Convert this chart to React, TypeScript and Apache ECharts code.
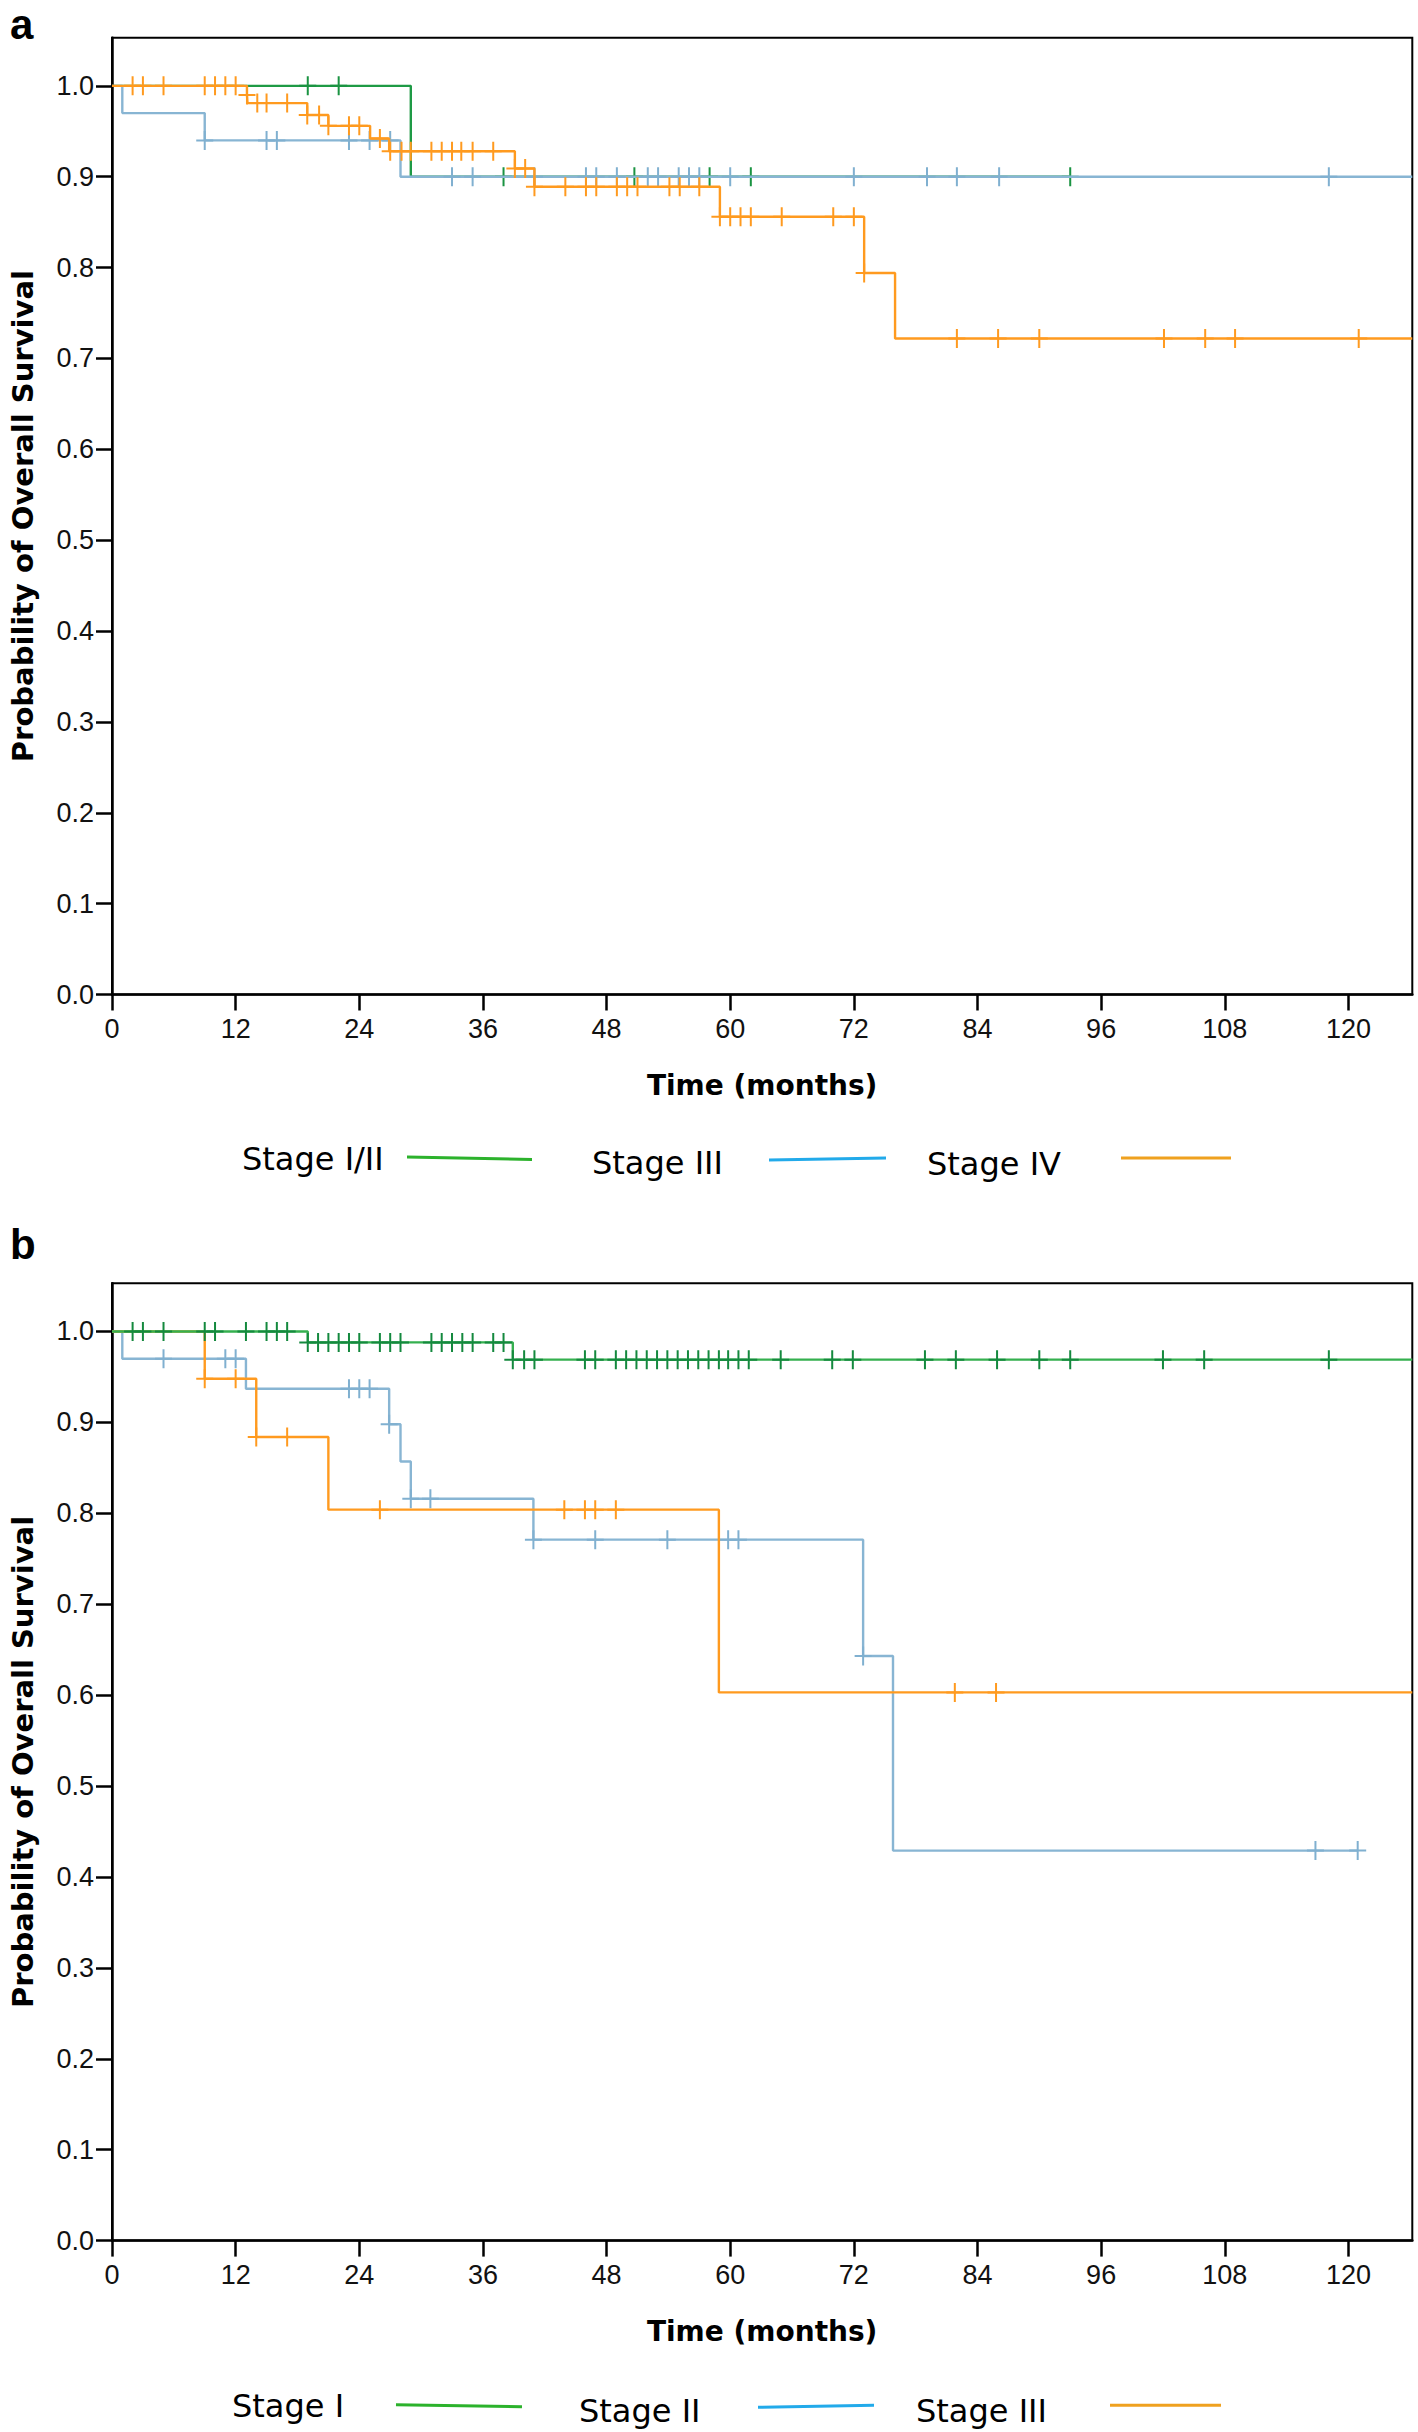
import React, { useEffect, useRef } from "react";
import * as echarts from "echarts";

const W = 1418;
const H = 2432;

const X_TICKS = [0, 12, 24, 36, 48, 60, 72, 84, 96, 108, 120];
const Y_TICKS = [0, 0.1, 0.2, 0.3, 0.4, 0.5, 0.6, 0.7, 0.8, 0.9, 1.0];
const X_MAX = 126.2;
const Y_MAX = 1.053;
const X_TITLE = "Time (months)";
const Y_TITLE = "Probability of Overall Survival";
const PANEL_LABELS = ["a", "b"];

// ---------- Panel a ----------
const A_LABELS = ["Stage I/II", "Stage III", "Stage IV"];
// step points: [time of event, survival after event]
const aS12Time = [0, 29.0, 93.0];
const aS12Surv = [1.0, 0.9, 0.9];
const aS12Cens = [19.0, 22.0, 38.0, 50.7, 58.0, 62.0, 93.0];

const aS3Time = [0, 1.0, 9.0, 28.0, 126.2];
const aS3Surv = [1.0, 0.97, 0.94, 0.9, 0.9];
const aS3Cens = [
  9.0, 15.0, 16.0, 23.0, 25.0, 27.0, 33.0, 35.0, 41.0, 46.0, 47.0, 49.0, 52.0,
  53.0, 55.0, 56.0, 57.0, 60.0, 72.0, 79.1, 82.0, 86.1, 118.1,
];

const aS4Time = [0, 13.1, 13.15, 18.95, 21.0, 25.05, 26.9, 39.1, 41.0, 59.0, 73.0, 76.0, 126.2];
const aS4Surv = [1.0, 0.99, 0.981, 0.968, 0.956, 0.942, 0.928, 0.909, 0.889, 0.856, 0.794, 0.722, 0.722];
const aS4Cens = [
  2.0, 3.0, 5.0, 9.0, 10.0, 11.0, 12.0, 13.1, 14.1, 15.0, 17.0, 18.95, 20.1, 21.0,
  23.0, 24.0, 26.0, 27.0, 28.1, 29.0, 31.0, 32.0, 33.0, 33.9, 35.0, 37.0, 39.1,
  40.1, 41.0, 44.0, 46.0, 47.0, 49.0, 50.0, 51.0, 54.1, 55.1, 57.0, 59.0, 60.0,
  61.0, 62.0, 65.0, 70.0, 72.0, 73.0, 82.0, 86.0, 90.0, 102.1, 106.1, 109.0, 121.0,
];

// ---------- Panel b ----------
const B_LABELS = ["Stage I", "Stage II", "Stage III"];
const bS1Time = [0, 19.0, 38.9, 126.2];
const bS1Surv = [1.0, 0.988, 0.969, 0.969];
const bS1Cens = [
  2.0, 3.0, 5.0, 9.0, 10.0, 13.0, 15.0, 16.0, 17.0, 19.0, 20.0, 21.0, 22.0, 23.0,
  24.0, 26.0, 27.0, 28.0, 31.0, 32.0, 33.0, 34.0, 35.0, 37.0, 38.0, 38.9, 40.0,
  41.0, 45.9, 46.9, 48.9, 49.9, 50.9, 51.9, 52.9, 53.9, 54.9, 55.9, 56.9, 57.9,
  58.9, 59.8, 60.8, 61.8, 64.9, 69.9, 71.9, 78.9, 81.9, 85.9, 90.0, 93.0, 102.0,
  106.0, 118.1,
];

const bS2Time = [0, 1.0, 13.0, 26.9, 28.0, 29.0, 40.9, 72.9, 75.8, 120.9];
const bS2Surv = [1.0, 0.97, 0.937, 0.898, 0.857, 0.816, 0.771, 0.643, 0.429, 0.429];
const bS2Cens = [5.0, 11.0, 12.0, 23.0, 24.0, 25.0, 26.9, 29.0, 30.9, 40.9, 46.9, 53.9, 59.8, 60.8, 72.9, 116.8, 120.9];

const bS3Time = [0, 9.0, 14.0, 21.0, 58.9, 126.2];
const bS3Surv = [1.0, 0.948, 0.884, 0.804, 0.603, 0.603];
const bS3Cens = [9.0, 12.0, 14.0, 17.0, 26.0, 43.9, 45.9, 46.9, 48.9, 81.8, 85.8];

// ---------- helpers ----------
const CROSS = "path://M7.5,0H9.5V8.5H17V10.5H9.5V19H7.5V10.5H0V8.5H7.5Z";

function survAt(times: number[], surv: number[], t: number) {
  let v = surv[0];
  for (let i = 0; i < times.length; i++) if (times[i] <= t + 1e-9) v = surv[i];
  return v;
}

function km(
  name: string,
  times: number[],
  surv: number[],
  cens: number[],
  lineColor: string,
  tickColor: string,
  idx: number,
  z: number
) {
  return [
    {
      name,
      type: "line",
      xAxisIndex: idx,
      yAxisIndex: idx,
      step: "end",
      showSymbol: false,
      silent: true,
      z,
      data: times.map((t, i) => [t, surv[i]]),
      lineStyle: { color: lineColor, width: 2.4 },
      itemStyle: { color: lineColor },
    },
    {
      name: name + " censored",
      type: "scatter",
      xAxisIndex: idx,
      yAxisIndex: idx,
      silent: true,
      z: z + 0.5,
      symbol: CROSS,
      symbolSize: [17, 19],
      symbolKeepAspect: false,
      data: cens.map((t) => [t, survAt(times, surv, t)]),
      itemStyle: { color: tickColor, opacity: 1 },
    },
  ];
}

const GRIDS = [
  { left: 107.3, top: 37.7, width: 1305, height: 956.8 },
  { left: 107.3, top: 1283.3, width: 1305, height: 957.3 },
];

function xAxis(idx: number) {
  return {
    type: "value",
    gridIndex: idx,
    min: 0,
    max: X_MAX,
    axisLine: { show: true, lineStyle: { color: "#000", width: 2.5 } },
    axisTick: {
      show: true,
      customValues: X_TICKS,
      length: 16,
      lineStyle: { color: "#000", width: 2.5 },
    },
    axisLabel: {
      customValues: X_TICKS,
      fontSize: 27,
      color: "#111",
      fontFamily: "Liberation Sans, Arial, sans-serif",
      margin: 21,
    },
    splitLine: { show: false },
    name: X_TITLE,
    nameLocation: "middle",
    nameGap: 77,
    nameTextStyle: {
      fontFamily: "DejaVu Sans, Verdana, sans-serif",
      fontWeight: "bold",
      fontSize: 28,
      color: "#000",
    },
  };
}

function yAxis(idx: number) {
  return {
    type: "value",
    gridIndex: idx,
    min: 0,
    max: Y_MAX,
    axisLine: { show: true, lineStyle: { color: "#000", width: 2.5 } },
    axisTick: {
      show: true,
      customValues: Y_TICKS,
      length: 16,
      lineStyle: { color: "#000", width: 2.5 },
    },
    axisLabel: {
      customValues: Y_TICKS,
      formatter: (v: number) => v.toFixed(1),
      fontSize: 27,
      color: "#111",
      fontFamily: "Liberation Sans, Arial, sans-serif",
      margin: 18,
    },
    splitLine: { show: false },
    name: Y_TITLE,
    nameLocation: "middle",
    nameGap: 75,
    nameTextStyle: {
      fontFamily: "DejaVu Sans, Verdana, sans-serif",
      fontWeight: "bold",
      fontSize: 29,
      color: "#000",
    },
  };
}

const LEG_FONT = "DejaVu Sans, Verdana, sans-serif";
const LEG_COLORS = ["#2cb22c", "#22aaea", "#efa11f"];

function legendGraphics(
  labels: string[],
  textX: number[],
  textY: number[],
  lines: number[][]
) {
  const out: any[] = [];
  labels.forEach((lab, i) => {
    out.push({
      type: "text",
      x: textX[i],
      y: textY[i],
      silent: true,
      style: {
        text: lab,
        fontSize: 32,
        fontFamily: LEG_FONT,
        fill: "#000",
        align: "left",
        verticalAlign: "middle",
      },
    });
    const l = lines[i];
    out.push({
      type: "line",
      silent: true,
      shape: { x1: l[0], y1: l[1], x2: l[2], y2: l[3] },
      style: { stroke: LEG_COLORS[i], lineWidth: 3 },
    });
  });
  return out;
}

function panelLabel(text: string, y: number) {
  return {
    type: "text",
    x: 10,
    y,
    silent: true,
    style: {
      text,
      fontSize: 42,
      fontWeight: "bold",
      fontFamily: "Liberation Sans, Arial, sans-serif",
      fill: "#000",
      align: "left",
      verticalAlign: "middle",
    },
  };
}

export default function App() {
  const ref = useRef<HTMLDivElement>(null);

  useEffect(() => {
    if (!ref.current) return;
    const chart = echarts.init(ref.current, undefined, { renderer: "svg", width: W, height: H });

    const series = [
      ...km(A_LABELS[0], aS12Time, aS12Surv, aS12Cens, "#1e9a45", "#1a9342", 0, 2),
      ...km(A_LABELS[1], aS3Time, aS3Surv, aS3Cens, "#88b5d3", "#80b0d0", 0, 3),
      ...km(A_LABELS[2], aS4Time, aS4Surv, aS4Cens, "#ff9a1f", "#ff9a1f", 0, 4),
      ...km(B_LABELS[1], bS2Time, bS2Surv, bS2Cens, "#88b5d3", "#80b0d0", 1, 2),
      ...km(B_LABELS[2], bS3Time, bS3Surv, bS3Cens, "#ff9a1f", "#ff9a1f", 1, 3),
      ...km(B_LABELS[0], bS1Time, bS1Surv, bS1Cens, "#35b04f", "#14893e", 1, 4),
    ];

    const graphic: any[] = [
      panelLabel(PANEL_LABELS[0], 24),
      panelLabel(PANEL_LABELS[1], 1244),
      ...legendGraphics(
        A_LABELS,
        [242, 592, 927],
        [1159, 1163, 1164],
        [
          [407, 1157, 532, 1159.5],
          [769, 1160, 886, 1158],
          [1121, 1158, 1231, 1158],
        ]
      ),
      ...legendGraphics(
        B_LABELS,
        [232, 579, 916],
        [2406, 2411, 2411],
        [
          [396, 2404.7, 522, 2406.7],
          [758, 2407.3, 874, 2405.3],
          [1110, 2405.3, 1221, 2405.3],
        ]
      ),
    ];

    chart.setOption({
      animation: false,
      backgroundColor: "#fff",
      grid: GRIDS.map((g) => ({
        ...g,
        show: true,
        borderColor: "#000",
        borderWidth: 2,
        backgroundColor: "transparent",
        containLabel: false,
      })),
      xAxis: [xAxis(0), xAxis(1)],
      yAxis: [yAxis(0), yAxis(1)],
      series,
      graphic,
    });

    return () => {
      chart.dispose();
    };
  }, []);

  return (
    <div
      ref={ref}
      style={{ position: "absolute", left: 0, top: 0, width: W, height: H, background: "#fff" }}
    />
  );
}
